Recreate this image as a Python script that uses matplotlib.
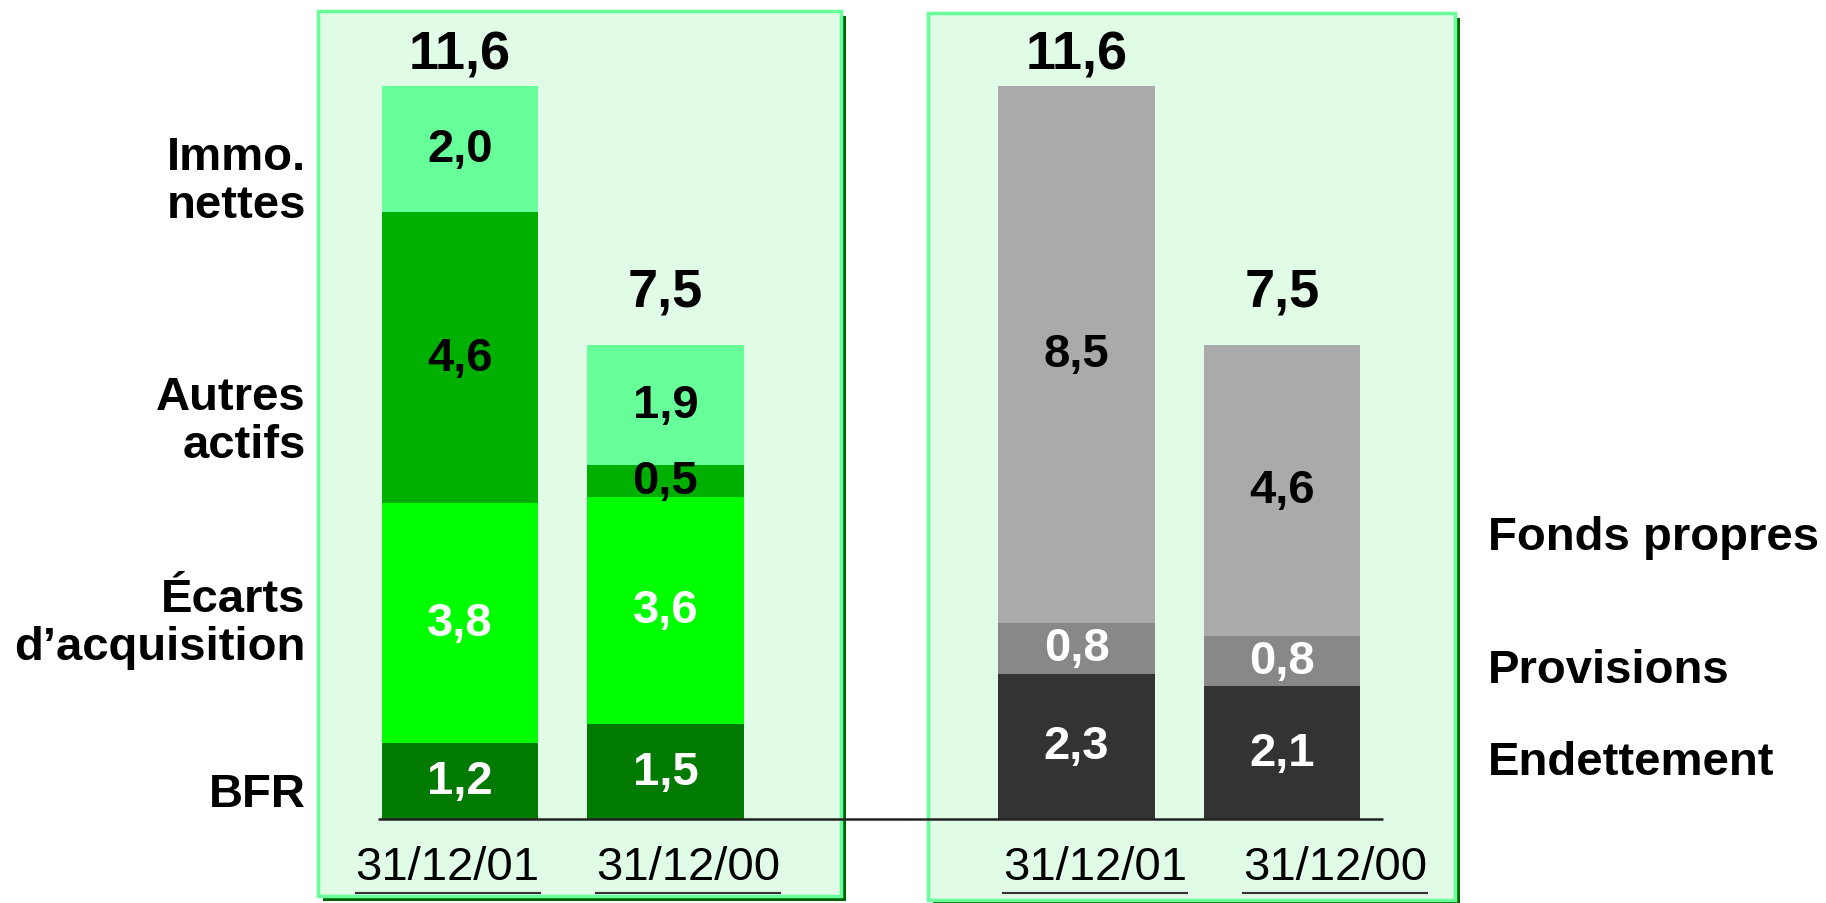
import matplotlib
matplotlib.use("Agg")
import matplotlib.pyplot as plt
from matplotlib.patches import Rectangle
from matplotlib.lines import Line2D
import numpy as np

plt.rcParams['font.family'] = ['Liberation Sans', 'DejaVu Sans']

# donnees
dates = ["31/12/01", "31/12/00"]
actif_labels = ["BFR", "Écarts\nd’acquisition", "Autres\nactifs", "Immo.\nnettes"]
actif_values = [[1.2, 3.8, 4.6, 2.0],
                [1.5, 3.6, 0.5, 1.9]]
passif_labels = ["Endettement", "Provisions", "Fonds propres"]
passif_values = [[2.3, 0.8, 8.5],
                 [2.1, 0.8, 4.6]]
totals = [11.6, 7.5]

actif_colors = ["#007A00", "#00FF00", "#00B000", "#66FF99"]
actif_txt = ["white", "white", "black", "black"]
passif_colors = ["#333333", "#888888", "#AAAAAA"]
passif_txt = ["white", "white", "black"]

W, H = 1826, 904
fig = plt.figure(figsize=(W / 100, H / 100), dpi=100)
fig.patch.set_facecolor("white")


def px_rect(x0, y0, x1, y1, **kw):
    # rectangle en pixels (origine en haut a gauche)
    r = Rectangle((x0 / W, 1 - y1 / H), (x1 - x0) / W, (y1 - y0) / H,
                  transform=fig.transFigure, **kw)
    fig.patches.append(r)


# panneaux de fond avec ombre
for (x0, y0, x1, y1) in [(318, 12, 841, 897), (928, 14, 1455, 901)]:
    px_rect(x0 + 5, y0 + 5, x1 + 5, y1 + 5, facecolor="#006400", edgecolor="none", zorder=0)
    px_rect(x0, y0, x1, y1, facecolor="#E0FCE6", edgecolor="#66FF99", linewidth=2.5, zorder=1)

ax = fig.add_axes([0, 0, 1, 1])
ax.set_facecolor("none")
ax.set_zorder(2)
ax.set_xlim(-460 / 205.5, (W - 460) / 205.5)
ax.set_ylim(-84 / 63.2, (H - 84) / 63.2)
ax.axis("off")

xa = np.array([0, 1])
xp = np.array([3, 4])
width = 0.76


def fmt(v):
    return f"{v:.1f}".replace(".", ",")


# actif
bottom = np.zeros(2)
vals = np.array(actif_values)
for i in range(len(actif_labels)):
    ax.bar(xa, vals[:, i], width, bottom=bottom, color=actif_colors[i], zorder=2)
    for j in range(2):
        ax.text(xa[j], bottom[j] + vals[j, i] / 2, fmt(vals[j, i]), ha="center", va="center",
                fontsize=34, fontweight="bold", color=actif_txt[i], zorder=3)
    bottom += vals[:, i]

# passif
bottom = np.zeros(2)
vals = np.array(passif_values)
for i in range(len(passif_labels)):
    ax.bar(xp, vals[:, i], width, bottom=bottom, color=passif_colors[i], zorder=2)
    for j in range(2):
        ax.text(xp[j], bottom[j] + vals[j, i] / 2, fmt(vals[j, i]), ha="center", va="center",
                fontsize=34, fontweight="bold", color=passif_txt[i], zorder=3)
    bottom += vals[:, i]

# totaux
tot_off = [0.5, 0.85]
for j in range(2):
    for x in (xa[j], xp[j]):
        ax.text(x, totals[j] + tot_off[j], fmt(totals[j]), ha="center", va="center",
                fontsize=39, fontweight="bold", color="black", zorder=3)

# ligne de base
ax.hlines(0, xa[0] - 0.40, xp[-1] + 0.49, color="#222222", linewidth=1.8, zorder=4)

# libelles actif (a gauche)
actif_y = [0.4, 3.1, 6.3, 10.1]
for lab, y in zip(actif_labels, actif_y):
    ax.text(-0.75, y, lab, ha="right", va="center", fontsize=34, fontweight="bold",
            linespacing=1.12, zorder=3)

# libelles passif (a droite)
passif_y = [0.9, 2.35, 4.46]
for lab, y in zip(passif_labels, passif_y):
    ax.text(5.0, y, lab, ha="left", va="center", fontsize=34, fontweight="bold", zorder=3)

# dates soulignees
date_x = [[-0.06, 1.11], [3.09, 4.26]]
date_texts = []
for grp in date_x:
    for j, x in enumerate(grp):
        t = ax.text(x, -0.76, dates[j], ha="center", va="center", fontsize=34, zorder=3)
        date_texts.append(t)

fig.canvas.draw()
renderer = fig.canvas.get_renderer()
for t in date_texts:
    bb = t.get_window_extent(renderer)
    y = bb.y0 - 4
    fig.lines.append(Line2D([bb.x0 / W, bb.x1 / W], [y / H, y / H], transform=fig.transFigure,
                            color="#333333", linewidth=1.5))

fig.savefig("out.png", dpi=100, facecolor="white")
